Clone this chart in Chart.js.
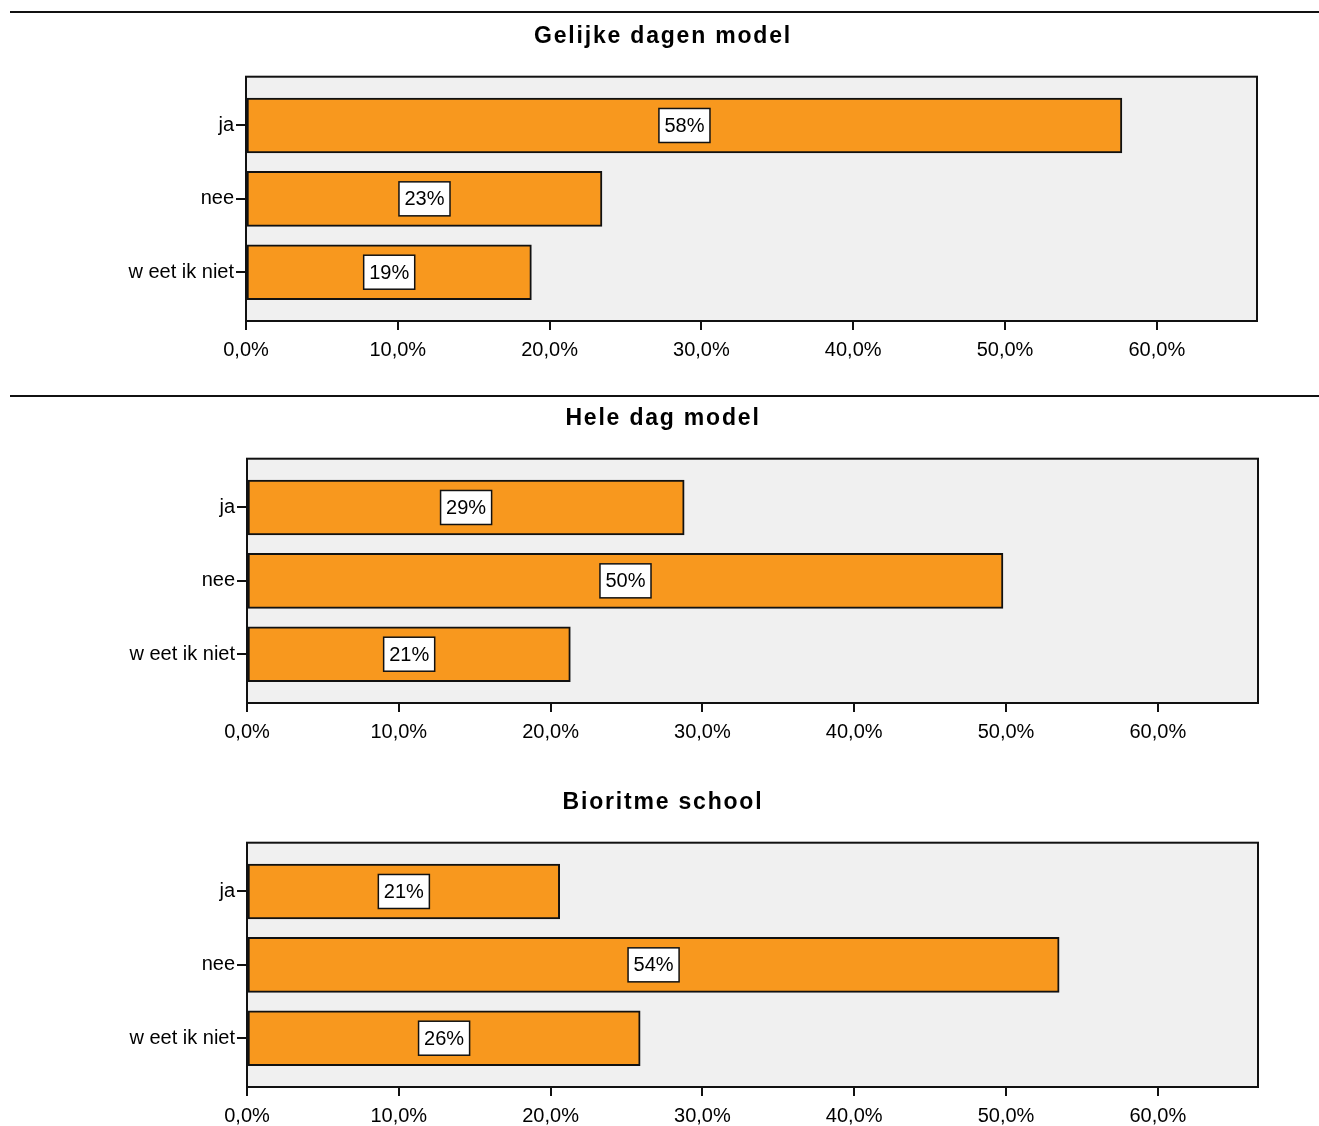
<!DOCTYPE html>
<html>
<head>
<meta charset="utf-8">
<script src="https://cdn.jsdelivr.net/npm/chart.js@4.4.1/dist/chart.umd.min.js"></script>
<style>
  body { margin: 0; background: #fff; width: 1319px; height: 1126px; position: relative; overflow: hidden; }
  canvas { position: absolute; }
  .rule { position: absolute; left: 10px; right: 0; height: 2px; background: #111; }
</style>
</head>
<body>
<div class="rule" style="top:11px"></div>
<div class="rule" style="top:395px"></div>
<canvas id="c1" width="1319" height="340" style="left:0;top:20px"></canvas>
<canvas id="c2" width="1319" height="340" style="left:1px;top:402px"></canvas>
<canvas id="c3" width="1319" height="340" style="left:1px;top:786px"></canvas>
<script>
// categories and values (percent of respondents)
const categories = ['ja', 'nee', 'w eet ik niet'];
const titles = ['Gelijke dagen model', 'Hele dag model', 'Bioritme school'];
const gelijkeDagen = [57.7, 23.45, 18.8];
const heleDag = [28.8, 49.8, 21.3];
const bioritme = [20.6, 53.5, 25.9];
const xTicks = [0, 10, 20, 30, 40, 50, 60];
const xMax = 66.6;

const FONT = '"Liberation Sans", Arial, sans-serif';
const ORANGE = '#F8981E';

// grey plot box + border + value labels + title
const boxPlugin = {
    id: 'box',
    beforeDatasetsDraw(chart) {
        const a = chart.chartArea, ctx = chart.ctx;
        ctx.save();
        ctx.fillStyle = '#F0F0F0';
        ctx.fillRect(a.left, a.top, a.right - a.left, a.bottom - a.top);
        ctx.restore();
    },
    afterDatasetsDraw(chart, args, opts) {
        const a = chart.ctx, area = chart.chartArea;
        a.save();
        a.strokeStyle = '#111';
        a.lineWidth = 2;
        a.strokeRect(area.left, area.top, area.right - area.left, area.bottom - area.top);
        a.font = '20px ' + FONT;
        a.textAlign = 'center';
        a.textBaseline = 'middle';
        const ds = chart.data.datasets[0];
        chart.getDatasetMeta(0).data.forEach((bar, i) => {
            const txt = Math.round(ds.data[i].x) + '%';
            const cx = (bar.x + bar.base) / 2;
            const w = a.measureText(txt).width + 11;
            const h = 34;
            a.fillStyle = '#fff';
            a.fillRect(cx - w / 2, bar.y - h / 2, w, h);
            a.lineWidth = 1.5;
            a.strokeRect(cx - w / 2, bar.y - h / 2, w, h);
            a.fillStyle = '#000';
            a.fillText(txt, cx, bar.y + 1);
        });
        // title
        a.font = 'bold 23px ' + FONT;
        a.letterSpacing = '1.8px';
        a.fillText(opts.text, opts.cx, 17);
        a.restore();
    }
};

function makeChart(id, title, values, left) {
    new Chart(document.getElementById(id), {
        type: 'bar',
        data: {
            datasets: [{
                data: values.map((v, i) => ({ x: v, y: i })),
                backgroundColor: ORANGE,
                borderColor: '#111',
                borderWidth: 2,
                borderSkipped: false,
                barThickness: 55
            }]
        },
        options: {
            indexAxis: 'y',
            responsive: false,
            animation: false,
            devicePixelRatio: 1,
            layout: { padding: { left: 0, right: 62, top: 56.7, bottom: 0 } },
            plugins: {
                legend: { display: false },
                tooltip: { enabled: false },
                title: { display: false },
                box: { text: title, cx: 663 - left }
            },
            scales: {
                x: {
                    type: 'linear',
                    min: 0,
                    max: xMax,
                    afterBuildTicks: s => { s.ticks = xTicks.map(v => ({ value: v })); },
                    afterFit: s => { s.height = 39; },
                    border: { display: false },
                    grid: { drawOnChartArea: false, drawTicks: true, tickLength: 9, color: '#111', lineWidth: 2 },
                    ticks: {
                        color: '#000',
                        padding: 8,
                        font: { family: FONT, size: 20 },
                        callback: v => v.toFixed(1).replace('.', ',') + '%'
                    }
                },
                y: {
                    type: 'linear',
                    reverse: true,
                    offset: false,
                    min: -0.665,
                    max: 2.665,
                    afterBuildTicks: s => { s.ticks = categories.map((c, i) => ({ value: i })); },
                    afterFit: s => { s.width = 246; },
                    border: { display: false },
                    grid: { offset: false, drawOnChartArea: false, drawTicks: true, tickLength: 10, color: '#111', lineWidth: 2 },
                    ticks: {
                        color: '#000',
                        padding: 2,
                        font: { family: FONT, size: 20 },
                        callback: v => categories[v]
                    }
                }
            }
        },
        plugins: [boxPlugin]
    });
}

makeChart('c1', titles[0], gelijkeDagen, 0);
makeChart('c2', titles[1], heleDag, 1);
makeChart('c3', titles[2], bioritme, 1);
</script>
</body>
</html>
